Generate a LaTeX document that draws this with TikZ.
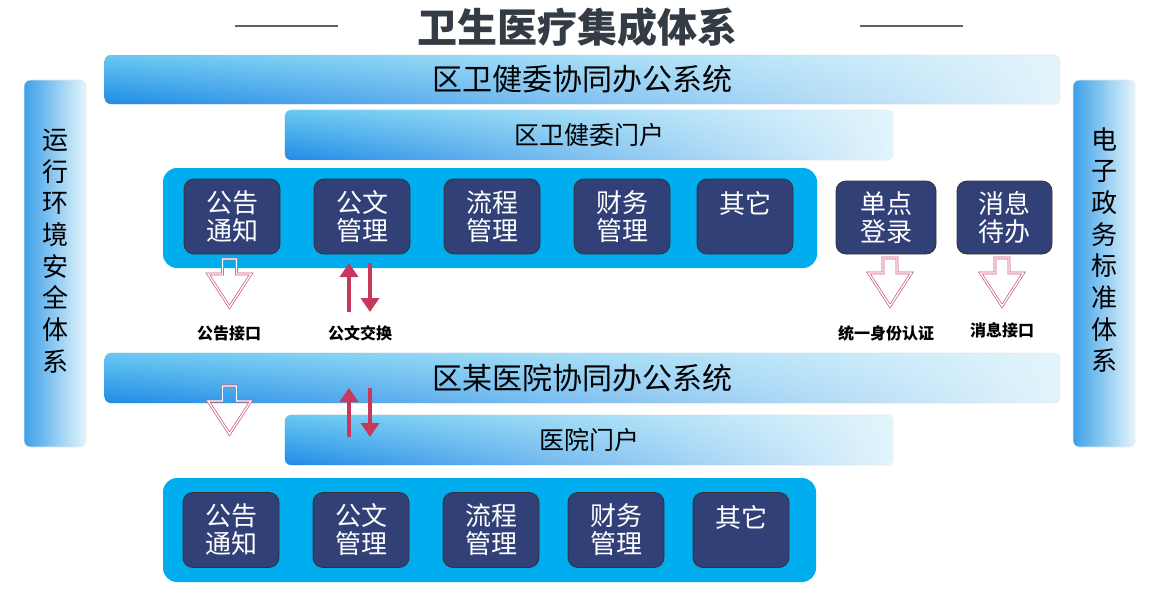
\documentclass[tikz,border=0pt]{standalone}
\usepackage{fontspec}
\setmainfont{Noto Sans CJK SC}
\usetikzlibrary{positioning,arrows.meta,fadings}
\definecolor{barblue}{RGB}{30,140,230}
\definecolor{barcyan}{RGB}{105,200,242}
\definecolor{sideblue}{RGB}{60,160,232}
\definecolor{barlight}{RGB}{228,245,252}
\definecolor{panelblue}{RGB}{0,174,239}
\definecolor{boxnavy}{RGB}{50,64,120}
\definecolor{arrowred}{RGB}{200,56,90}
\definecolor{titlegray}{RGB}{51,60,68}
\tikzfading[name=faderight, left color=transparent!0, right color=transparent!100]
\tikzset{
  bar/.style={rounded corners=6pt, fill=barlight, draw=black!8, line width=.8pt, inner sep=0pt,
    postaction={path fading=faderight, top color=barcyan, bottom color=barblue}},
  sidebar/.style={rounded corners=6pt, left color=sideblue, right color=barlight,
    draw=black!8, line width=.8pt, inner sep=0pt, minimum width=62pt, minimum height=367pt},
  panel/.style={rounded corners=14pt, fill=panelblue, inner sep=0pt},
  modbox/.style={rounded corners=10pt, fill=boxnavy, draw=black!80, line width=.8pt,
    minimum width=96pt, minimum height=75pt, text=white, align=center,
    font=\fontsize{26}{28}\selectfont, inner sep=0pt},
  iflabel/.style={font=\fontsize{16}{18}\selectfont\bfseries},
  hollow/.style={draw=arrowred!85, double=white, double distance=1.4pt,
    line width=.7pt, line join=miter},
  swap/.style={draw=arrowred, line width=4pt, -{Triangle[length=14pt,width=18pt]}}
}
\newcommand\hollowdown[1]{%
  \draw[hollow] (#1) ++(-7,0) -- ++(14,0) -- ++(0,15) -- ++(14.5,0)
    -- ++(-21.5,33) -- ++(-21.5,-33) -- ++(14.5,0) -- cycle;}
\begin{document}
\begin{tikzpicture}[x=1pt,y=-1pt]
  \useasboundingbox (0,0) rectangle (1152,592);
  % title
  \node[font=\fontsize{40}{44}\selectfont\bfseries, text=titlegray] (title) at (577,27) {卫生医疗集成体系};
  \draw[titlegray!80, line width=1.2pt] (235,26) -- (338,26);
  \draw[titlegray!80, line width=1.2pt] (860,26) -- (963,26);
  % side bars
  \node[sidebar] (safe) at (55,263.5) {};
  \node[align=center, font=\fontsize{26}{31.7}\selectfont] at (55,251) {运\\行\\环\\境\\安\\全\\体\\系};
  \node[sidebar] (std) at (1104,263.5) {};
  \node[align=center, font=\fontsize{26}{31.7}\selectfont] at (1104,250) {电\\子\\政\\务\\标\\准\\体\\系};
  % district level
  \node[bar, minimum width=955pt, minimum height=49pt, font=\fontsize{30}{32}\selectfont] (oa1) at (582.5,79.5) {区卫健委协同办公系统};
  \node[bar, minimum width=608pt, minimum height=50pt, font=\fontsize{25}{28}\selectfont] (portal1) at (589,135) {区卫健委门户};
  \node[panel, minimum width=654pt, minimum height=100pt] (panel1) at (490,218) {};
  \node[modbox] (notice1) at (232,216.5) {公告\\通知};
  \node[modbox] (doc1) at (362,216.5) {公文\\管理};
  \node[modbox] (flow1) at (492,216.5) {流程\\管理};
  \node[modbox] (fin1) at (622,216.5) {财务\\管理};
  \node[modbox] (other1) at (745,216.5) {其它\\\mbox{}};
  \node[modbox, minimum width=100pt, minimum height=73pt] (sso) at (886,217.5) {单点\\登录};
  \node[modbox, minimum width=95pt, minimum height=73pt] (msg) at (1004.5,217.5) {消息\\待办};
  % interfaces
  \coordinate (n1) at (229.5,259);
  \coordinate (s1) at (890,258);
  \coordinate (m1) at (1002,258);
  \hollowdown{n1}
  \hollowdown{s1}
  \hollowdown{m1}
  \coordinate (up1a) at (349,312);
  \coordinate (up1b) at (349,263);
  \coordinate (dn1a) at (370,263);
  \coordinate (dn1b) at (370,312);
  \draw[swap] (up1a) -- (up1b);
  \draw[swap] (dn1a) -- (dn1b);
  \node[iflabel] (lnotice) at (229,333) {公告接口};
  \node[iflabel] (ldoc) at (360,333) {公文交换};
  \node[iflabel] (lsso) at (886,333) {统一身份认证};
  \node[iflabel] (lmsg) at (1002,330) {消息接口};
  % hospital level
  \node[bar, minimum width=955pt, minimum height=50pt, font=\fontsize{30}{32}\selectfont] (oa2) at (582.5,378) {区某医院协同办公系统};
  \node[bar, minimum width=608pt, minimum height=50pt, font=\fontsize{25}{28}\selectfont] (portal2) at (589,440) {医院门户};
  \coordinate (n2) at (229.5,386);
  \hollowdown{n2}
  \coordinate (up2a) at (349,437);
  \coordinate (up2b) at (349,388);
  \coordinate (dn2a) at (370,388);
  \coordinate (dn2b) at (370,437);
  \draw[swap] (up2a) -- (up2b);
  \draw[swap] (dn2a) -- (dn2b);
  \node[panel, minimum width=653pt, minimum height=104pt] (panel2) at (489.5,530) {};
  \node[modbox] (notice2) at (231,530) {公告\\通知};
  \node[modbox] (doc2) at (361,530) {公文\\管理};
  \node[modbox] (flow2) at (491,530) {流程\\管理};
  \node[modbox] (fin2) at (616,530) {财务\\管理};
  \node[modbox] (other2) at (741,530) {其它\\\mbox{}};
\end{tikzpicture}
\end{document}
